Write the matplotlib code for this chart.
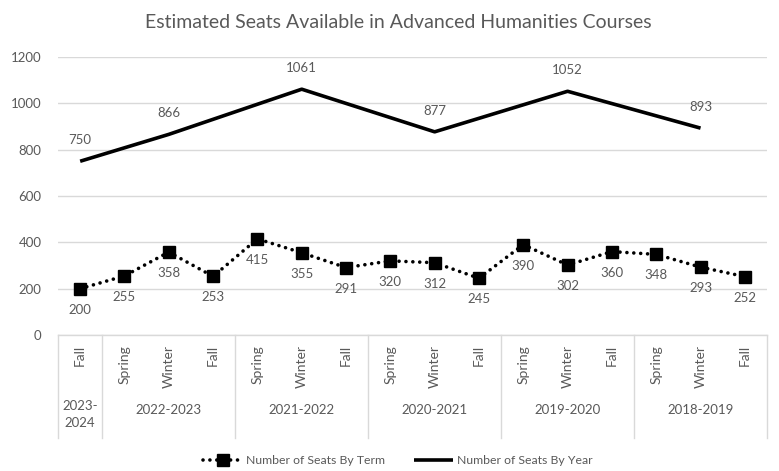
import matplotlib
matplotlib.use("Agg")
import matplotlib.pyplot as plt
from matplotlib.lines import Line2D

terms = ["Fall", "Spring", "Winter", "Fall", "Spring", "Winter", "Fall",
         "Spring", "Winter", "Fall", "Spring", "Winter", "Fall",
         "Spring", "Winter", "Fall"]
years = ["2023-\n2024", "2022-2023", "2021-2022", "2020-2021", "2019-2020", "2018-2019"]
year_sizes = [1, 3, 3, 3, 3, 3]
term_values = [200, 255, 358, 253, 415, 355, 291, 320, 312, 245, 390, 302, 360, 348, 293, 252]
year_idx = [0, 2, 5, 8, 11, 14]
year_values = [750, 866, 1061, 877, 1052, 893]
yticks = [0, 200, 400, 600, 800, 1000, 1200]

FONT = "Lato"
GREY = "#595959"
GRID = "#d9d9d9"
plt.rcParams["font.family"] = [FONT, "DejaVu Sans"]

W, H = 779, 471
fig = plt.figure(figsize=(W / 100, H / 100), dpi=100)
L, R, T, B = 58, 767, 57, 335
ax = fig.add_axes([L / W, 1 - B / H, (R - L) / W, (B - T) / H])
n = len(terms)
x = list(range(n))
ax.set_xlim(-0.5, n - 0.5)
ax.set_ylim(0, 1200)
ax.set_yticks(yticks)
ax.set_yticklabels([str(v) for v in yticks], color=GREY, fontsize=9.5)
ax.tick_params(axis="y", length=0, pad=12)
ax.set_xticks([])
ax.grid(axis="y", color=GRID, linewidth=1)
ax.set_axisbelow(True)
for s in ["top", "right", "left"]:
    ax.spines[s].set_visible(False)
ax.spines["bottom"].set_color(GRID)
ax.spines["bottom"].set_linewidth(1)

ax.plot(x, term_values, color="black", linestyle=(0, (0.01, 1.9)), linewidth=2.6,
        marker="s", markersize=8, label="Number of Seats By Term",
        dash_capstyle="round")
ax.plot(year_idx, year_values, color="black", linewidth=2.6, solid_capstyle="butt",
        label="Number of Seats By Year")

for xi, v in zip(x, term_values):
    ax.annotate(str(v), (xi, v), xytext=(0, -21), textcoords="offset pixels",
                ha="center", va="center", color=GREY, fontsize=9.5)
for xi, v in zip(year_idx, year_values):
    ax.annotate(str(v), (xi, v), xytext=(0, 21), textcoords="offset pixels",
                ha="center", va="center", color=GREY, fontsize=9.5)

# category axis
ph = B - T
trans = ax.get_xaxis_transform()
for xi, t in enumerate(terms):
    ax.text(xi, -(345 - B) / ph, t, rotation=90, ha="center", va="top",
            color=GREY, fontsize=10, transform=trans, clip_on=False)
start = 0
bounds = [-0.5]
for yl, sz in zip(years, year_sizes):
    c = start + (sz - 1) / 2
    if "\n" in yl:
        ax.text(c, -(400 - B) / ph, yl, ha="center", va="top", color=GREY,
                fontsize=9.5, transform=trans, clip_on=False, linespacing=1.5)
    else:
        ax.text(c, -(410 - B) / ph, yl, ha="center", va="center", color=GREY,
                fontsize=9.5, transform=trans, clip_on=False)
    start += sz
    bounds.append(start - 0.5)
for bx in bounds:
    ax.add_line(Line2D([bx, bx], [0, -(438 - B) / ph], transform=trans,
                       color=GRID, linewidth=1, clip_on=False))

fig.text(398 / W, 1 - 22 / H, "Estimated Seats Available in Advanced Humanities Courses",
         ha="center", va="center", color=GREY, fontsize=14)

leg = fig.legend(loc="center", bbox_to_anchor=(398 / W, 1 - 461 / H), ncol=2,
                 frameon=False, fontsize=8.8, handlelength=3.2, columnspacing=2.4,
                 handletextpad=0.3)
for t in leg.get_texts():
    t.set_color(GREY)

fig.savefig("out.png", dpi=100)
